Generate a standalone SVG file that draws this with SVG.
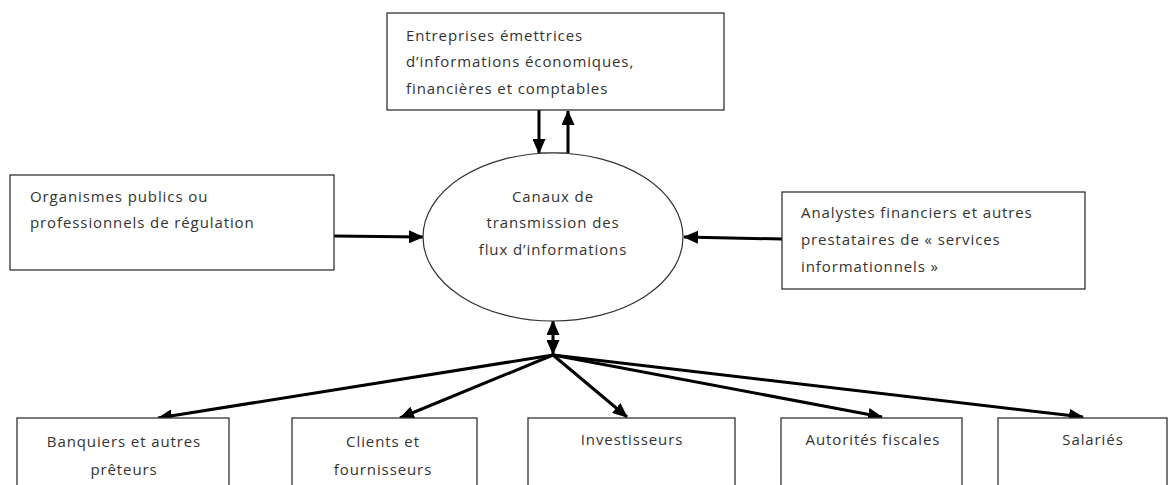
<svg xmlns="http://www.w3.org/2000/svg" width="1170" height="485" viewBox="0 0 1170 485">
<style>
.box{fill:#fff;stroke:#333;stroke-width:1.3}
.t{font-family:"Open Sans","Liberation Sans",sans-serif;font-size:15px;letter-spacing:0.9px;fill:#333}
.c{text-anchor:middle}
.arr{fill:none;stroke:#000;stroke-width:3;marker-end:url(#ah)}
.thin{fill:none;stroke:#444;stroke-width:1.2}
</style>
<defs>
<marker id="ah" markerUnits="userSpaceOnUse" markerWidth="15" markerHeight="13" refX="14" refY="6.5" orient="auto">
<path d="M0,0 L15,6.5 L0,13 Z" fill="#000"/>
</marker>
<marker id="ahs" markerUnits="userSpaceOnUse" markerWidth="15" markerHeight="13" refX="14" refY="6.5" orient="auto-start-reverse">
<path d="M0,0 L15,6.5 L0,13 Z" fill="#000"/>
</marker>
</defs>
<rect width="1170" height="485" fill="#fff"/>
<g id="connectors">
<line class="arr" x1="539" y1="110" x2="539" y2="153"/>
<line class="arr" x1="568" y1="153" x2="568" y2="111"/>
<line class="thin" x1="539" y1="153" x2="568" y2="153"/>
<line class="arr" x1="334" y1="236" x2="423" y2="237"/>
<line class="arr" x1="782" y1="239" x2="684" y2="237"/>
<line x1="553" y1="354" x2="553" y2="321" stroke="#000" stroke-width="3" marker-start="url(#ahs)" marker-end="url(#ah)"/>
<line class="arr" x1="553" y1="355" x2="158" y2="418"/>
<line class="arr" x1="553" y1="355" x2="400" y2="418"/>
<line class="arr" x1="553" y1="355" x2="627" y2="417"/>
<line class="arr" x1="553" y1="355" x2="882" y2="417"/>
<line class="arr" x1="553" y1="355" x2="1083" y2="417"/>
</g>
<g id="n-entreprises">
<rect class="box" x="387" y="13" width="337" height="97"/>
<text class="t" x="406" y="41">Entreprises émettrices</text>
<text class="t" x="406" y="67">d’informations économiques,</text>
<text class="t" x="406" y="94">financières et comptables</text>
</g>
<g id="n-canaux">
<ellipse cx="553" cy="237" rx="130" ry="84" fill="#fff" stroke="#333" stroke-width="1.2"/>
<text class="t c" x="553" y="202">Canaux de</text>
<text class="t c" x="553" y="228">transmission des</text>
<text class="t c" x="553" y="255">flux d’informations</text>
</g>
<g id="n-organismes">
<rect class="box" x="10" y="175" width="324" height="95"/>
<text class="t" x="30" y="202">Organismes publics ou</text>
<text class="t" x="30" y="228">professionnels de régulation</text>
</g>
<g id="n-analystes">
<rect class="box" x="782" y="192" width="303" height="97"/>
<text class="t" x="801" y="218">Analystes financiers et autres</text>
<text class="t" x="801" y="245">prestataires de « services</text>
<text class="t" x="801" y="272">informationnels »</text>
</g>
<g id="n-banquiers">
<rect class="box" x="17" y="418" width="212" height="80"/>
<text class="t c" x="124" y="447">Banquiers et autres</text>
<text class="t c" x="124" y="475">prêteurs</text>
</g>
<g id="n-clients">
<rect class="box" x="292" y="418" width="185" height="80"/>
<text class="t c" x="383" y="447">Clients et</text>
<text class="t c" x="383" y="475">fournisseurs</text>
</g>
<g id="n-investisseurs">
<rect class="box" x="528" y="418" width="207" height="80"/>
<text class="t c" x="632" y="445">Investisseurs</text>
</g>
<g id="n-autorites">
<rect class="box" x="781" y="418" width="181" height="80"/>
<text class="t c" x="873" y="445">Autorités fiscales</text>
</g>
<g id="n-salaries">
<rect class="box" x="998" y="418" width="169" height="80"/>
<text class="t c" x="1093" y="445">Salariés</text>
</g>
</svg>
